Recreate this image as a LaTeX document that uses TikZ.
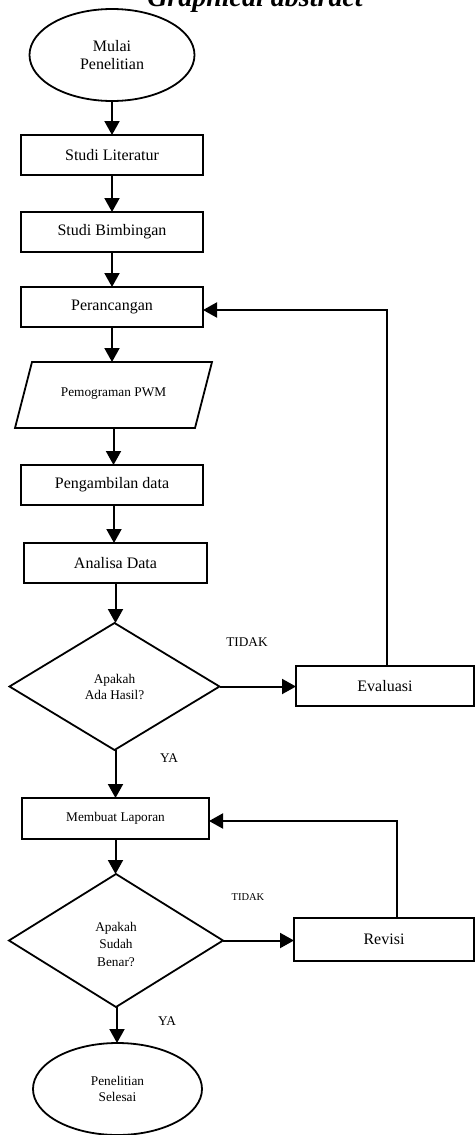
\documentclass[tikz,border=0pt]{standalone}
\usepackage{fontspec}
\setmainfont{Liberation Serif}
\usetikzlibrary{shapes.geometric,arrows.meta}
\begin{document}
\begin{tikzpicture}[x=1pt,y=-1pt,
  every node/.style={inner sep=0pt,outer sep=0pt},
  proc/.style={draw,line width=1.8pt,rectangle,minimum height=40pt},
  term/.style={draw,line width=1.8pt,ellipse,align=center},
  dec/.style={draw,line width=1.8pt,diamond},
  arr/.style={line width=2pt,-{Triangle[width=15pt,length=14pt]}},
  ln/.style={line width=1.8pt},
  fa/.style={font=\fontsize{16}{18.5}\selectfont},
  fb/.style={font=\fontsize{13.3}{16}\selectfont},
  fc/.style={font=\fontsize{13.3}{17.5}\selectfont},
  fd/.style={font=\fontsize{10.5}{12}\selectfont},
  ttl/.style={font=\fontsize{28}{30}\selectfont\bfseries\itshape}
]
\useasboundingbox (0,0) rectangle (475,1135);

\node[ttl,anchor=base] (title) at (255,6) {Graphical abstract};

\node[term,fa,minimum width=165pt,minimum height=92pt] (start) at (112,55) {Mulai\\Penelitian};
\node[proc,fa,minimum width=182pt] (lit) at (112,155) {Studi Literatur};
\node[proc,fa,minimum width=182pt] (bim) at (112,232) {Studi Bimbingan};
\node[proc,fa,minimum width=182pt] (ran) at (112,307) {Perancangan};
\node[fb,minimum width=197pt,minimum height=66pt] (pwm) at (113.5,395) {\raisebox{5pt}{Pemograman PWM}};
\draw[ln] ([xshift=17pt]pwm.north west) -- (pwm.north east) -- ([xshift=-17pt]pwm.south east) -- (pwm.south west) -- cycle;
\node[proc,fa,minimum width=182pt] (amb) at (112,485) {Pengambilan data};
\node[proc,fa,minimum width=183pt] (ana) at (115.5,563) {Analisa Data};
\node[dec,fb,align=center,minimum width=210pt,minimum height=127pt] (dec1) at (114.5,686.5) {Apakah\\Ada Hasil?};
\node[proc,fa,minimum width=178pt] (eva) at (385,686) {Evaluasi};
\node[proc,fb,minimum width=187pt,minimum height=41pt] (lap) at (115.5,818.5) {Membuat Laporan};
\node[dec,minimum width=214pt,minimum height=133pt] (dec2) at (116,940.5) {};
\begin{scope}
  \clip (0,860) rectangle (475,965);
  \node[fc,align=center] (dec2txt) at (116,944) {Apakah\\Sudah\\Benar?};
\end{scope}
\node[proc,fa,minimum width=180pt,minimum height=43pt] (rev) at (384,939.5) {Revisi};
\node[term,fb,minimum width=169pt,minimum height=92pt] (finish) at (117.5,1089) {Penelitian\\Selesai};

\node[fb] (t1) at (247,642) {TIDAK};
\node[fb] (y1) at (169,758) {YA};
\node[fd] (t2) at (248,897) {TIDAK};
\node[fb] (y2) at (167,1021) {YA};

\draw[arr] (start.south) -- (start.south |- lit.north);
\draw[arr] (lit.south) -- (lit.south |- bim.north);
\draw[arr] (bim.south) -- (bim.south |- ran.north);
\draw[arr] (ran.south) -- (ran.south |- pwm.north);
\draw[arr] (pwm.south) -- (pwm.south |- amb.north);
\draw[arr] ([xshift=2pt]amb.south) -- ([xshift=2pt]amb.south |- ana.north);
\draw[arr] (ana.south) -- (ana.south |- dec1.north);
\draw[arr] (dec1.east) -- (dec1.east -| eva.west);
\draw[arr] ([xshift=2pt]eva.north) |- ([yshift=-3pt]ran.east);
\draw[arr] ([xshift=1pt]dec1.south) -- ([xshift=1pt]dec1.south |- lap.north);
\draw[arr] (lap.south) -- (lap.south |- dec2.north);
\draw[arr] (dec2.east) -- (dec2.east -| rev.west);
\draw[arr] ([xshift=13pt]rev.north) |- ([yshift=-2.5pt]lap.east);
\draw[arr] ([xshift=1pt]dec2.south) -- ([xshift=1pt]dec2.south |- finish.north);
\end{tikzpicture}
\end{document}
